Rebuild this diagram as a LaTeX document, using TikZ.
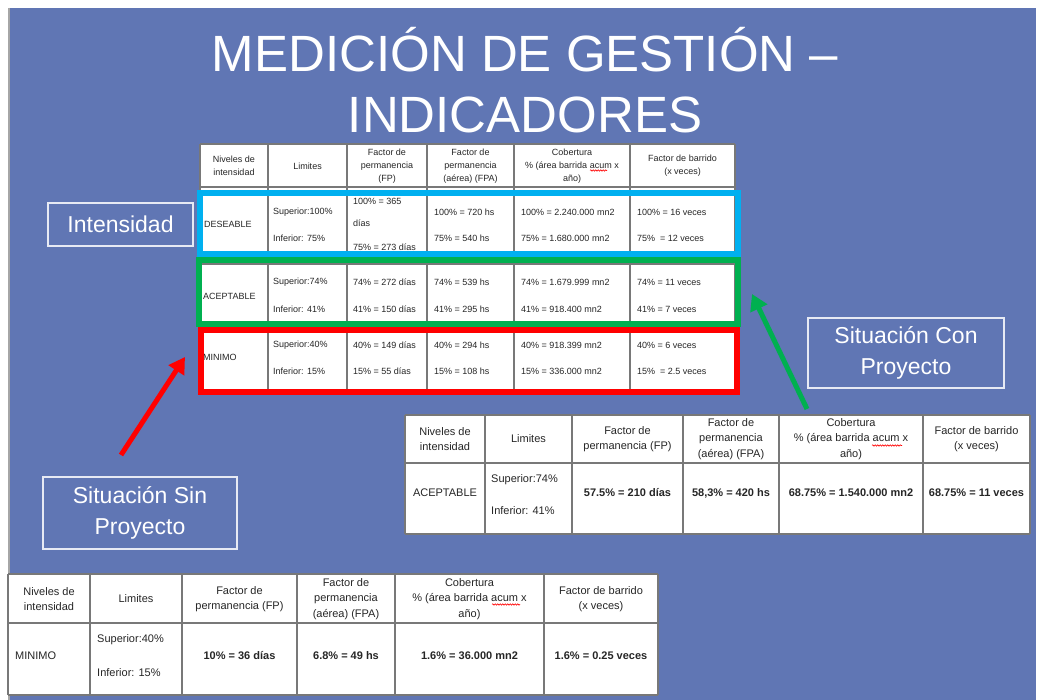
\documentclass[tikz,border=0pt]{standalone}
\usepackage{fontspec}
\setmainfont{Liberation Sans}
\usepackage{tikz}
\usetikzlibrary{arrows.meta,decorations.pathmorphing,positioning,calc}
\definecolor{fondo}{RGB}{96,118,180}
\definecolor{celeste}{RGB}{0,176,240}
\definecolor{verde}{RGB}{0,176,80}
\definecolor{rejilla}{RGB}{120,120,120}

\begin{document}
\begin{tikzpicture}[x=1pt,y=-1pt,
  linea/.style={rejilla,line width=1.2pt},
  chico/.style={font=\fontsize{9}{13}\selectfont,align=center,inner sep=0pt,text=black!85},
  medio/.style={font=\fontsize{11}{15.5}\selectfont,align=center,inner sep=0pt,text=black!85},
  negrita/.style={medio,font=\fontsize{11}{15.5}\selectfont\bfseries},
  marco/.style={line width=6pt},
  etiqueta/.style={draw=white!85!fondo,line width=1.2pt,text=white,font=\fontsize{23}{30.5}\selectfont,align=center,inner sep=0pt},
  flecha/.style={line width=5pt,-{Triangle[length=16pt,width=18pt]}},
  subrayado/.style={red,line width=0.6pt,decorate,decoration={snake,amplitude=0.7pt,segment length=2.5pt}}]
  \useasboundingbox (0,0) rectangle (1038,700);
  % 背景
  \fill[fondo] (10,8) rectangle (1036,700);
  \draw[gray!70,line width=2pt] (9,8) -- (9,700);
  % 标题
  \node[text=white,font=\fontsize{51}{62}\selectfont,anchor=base] (titulo1) at (525,72) {MEDICIÓN DE GESTIÓN –};
  \node[text=white,font=\fontsize{51}{62}\selectfont,anchor=base] (titulo2) at (525,133) {INDICADORES};

  % 上方表格
  \fill[white] (200,144) rectangle (735,390);
  \foreach \x in {200,268,347,427,514,630,735} \draw[linea] (\x,144) -- (\x,390);
  \foreach \y in {144,187,264,331,390} \draw[linea] (200,\y) -- (735,\y);
  \foreach \i/\x/\t in {1/234/{Niveles de\\intensidad},2/307.5/Limites,3/387/{Factor de\\permanencia\\(FP)},
      4/470.5/{Factor de\\permanencia\\(aérea) (FPA)},5/572/{Cobertura\\\% (área barrida acum x\\año)},6/682.5/{Factor de barrido\\(x veces)}}
    \node[chico] (s-enc\i) at (\x,166) {\t};
  \draw[subrayado] (590,170.5) -- (607,170.5);
  \node[chico,anchor=west] (s-des) at (204,224) {DESEABLE};
  \node[chico,anchor=west] (s-ace) at (203,296) {ACEPTABLE};
  \node[chico,anchor=west] (s-min) at (203,357) {MINIMO};
  \foreach \n/\y/\lim/\fp/\fpa/\cob/\bar in {d1/212/Superior:100\%/{}/100\% = 720 hs/100\% = 2.240.000 mn2/100\% = 16 veces,
      d2/238/Inferior: 75\%/{}/75\% = 540 hs/75\% = 1.680.000 mn2/75\%~ = 12 veces,
      a1/282/Superior:74\%/74\% = 272 días/74\% = 539 hs/74\% = 1.679.999 mn2/74\% = 11 veces,
      a2/309/Inferior: 41\%/41\% = 150 días/41\% = 295 hs/41\% = 918.400 mn2/41\% = 7 veces,
      m1/345/Superior:40\%/40\% = 149 días/40\% = 294 hs/40\% = 918.399 mn2/40\% = 6 veces,
      m2/371/Inferior: 15\%/15\% = 55 días/15\% = 108 hs/15\% = 336.000 mn2/15\%~ = 2.5 veces}
  {
    \node[chico,anchor=west] (\n-lim) at (273,\y) {\lim};
    \node[chico,anchor=west] (\n-fp) at (353,\y) {\fp};
    \node[chico,anchor=west] (\n-fpa) at (434,\y) {\fpa};
    \node[chico,anchor=west] (\n-cob) at (521,\y) {\cob};
    \node[chico,anchor=west] (\n-bar) at (637,\y) {\bar};
  }
  \node[chico,anchor=west] (d-fp1) at (353,201) {100\% = 365};
  \node[chico,anchor=west] (d-fp2) at (353,223) {días};
  \node[chico,anchor=west] (d-fp3) at (353,247) {75\% = 273 días};
  % 彩色边框
  \draw[marco,celeste] (200,193) rectangle (738,254);
  \draw[marco,verde] (199,260.5) rectangle (738,324);
  \draw[marco,red] (201,330.5) rectangle (737,392);

  % 中间表格 (Con Proyecto)
  \fill[white] (405,415) rectangle (1030,534);
  \foreach \x in {405,485,572,683,779,923,1030} \draw[linea,line width=1.6pt] (\x,415) -- (\x,534);
  \foreach \y in {415,463,534} \draw[linea,line width=1.6pt] (405,\y) -- (1030,\y);
  \foreach \i/\x/\t in {1/445/{Niveles de\\intensidad},2/528.5/Limites,3/627.5/{Factor de\\permanencia (FP)},
      4/731/{Factor de\\permanencia\\(aérea) (FPA)},5/851/{Cobertura\\\% (área barrida acum x\\año)},6/976.5/{Factor de barrido\\(x veces)}}
    \node[medio] (c-enc\i) at (\x,439) {\t};
  \draw[subrayado] (872,445.5) -- (902,445.5);
  \node[medio] (c-ace) at (445,493) {ACEPTABLE};
  \node[medio,anchor=west] (c-sup) at (491,480) {Superior:74\%};
  \node[medio,anchor=west] (c-inf) at (491,511) {Inferior: 41\%};
  \node[negrita] (c-fp) at (627.5,493) {57.5\% = 210 días};
  \node[negrita] (c-fpa) at (731,493) {58,3\% = 420 hs};
  \node[negrita] (c-cob) at (851,493) {68.75\% = 1.540.000 mn2};
  \node[negrita] (c-bar) at (976.5,493) {68.75\% = 11 veces};

  % 下方表格 (Sin Proyecto)
  \fill[white] (8,574) rectangle (658,695);
  \foreach \x in {8,90,182,297,395,544,658} \draw[linea,line width=1.6pt] (\x,574) -- (\x,695);
  \foreach \y in {574,623,695} \draw[linea,line width=1.6pt] (8,\y) -- (658,\y);
  \foreach \i/\x/\t in {1/49/{Niveles de\\intensidad},2/136/Limites,3/239.5/{Factor de\\permanencia (FP)},
      4/346/{Factor de\\permanencia\\(aérea) (FPA)},5/469.5/{Cobertura\\\% (área barrida acum x\\año)},6/601/{Factor de barrido\\(x veces)}}
    \node[medio] (b-enc\i) at (\x,599) {\t};
  \draw[subrayado] (492,604.5) -- (520,604.5);
  \node[medio,anchor=west] (b-min) at (15,656) {MINIMO};
  \node[medio,anchor=west] (b-sup) at (97,640) {Superior:40\%};
  \node[medio,anchor=west] (b-inf) at (97,673) {Inferior: 15\%};
  \node[negrita] (b-fp) at (239.5,656) {10\% = 36 días};
  \node[negrita] (b-fpa) at (346,656) {6.8\% = 49 hs};
  \node[negrita] (b-cob) at (469.5,656) {1.6\% = 36.000 mn2};
  \node[negrita] (b-bar) at (601,656) {1.6\% = 0.25 veces};

  % 标签
  \node[etiqueta,minimum width=145pt,minimum height=43pt] (intensidad) at (120.5,224.5) {Intensidad};
  \node[etiqueta,minimum width=194pt,minimum height=72pt] (sinproy) at (140,513) {Situación Sin\\Proyecto};
  \node[etiqueta,minimum width=196pt,minimum height=70pt] (conproy) at (906,353) {Situación Con\\Proyecto};
  % 箭头
  \coordinate (rojo-ini) at (121,455);
  \coordinate (rojo-fin) at (185,357);
  \draw[flecha,red] (rojo-ini) -- (rojo-fin);
  \coordinate (verde-ini) at (807,409);
  \coordinate (verde-fin) at (752,294);
  \draw[flecha,verde] (verde-ini) -- (verde-fin);
\end{tikzpicture}
\end{document}
